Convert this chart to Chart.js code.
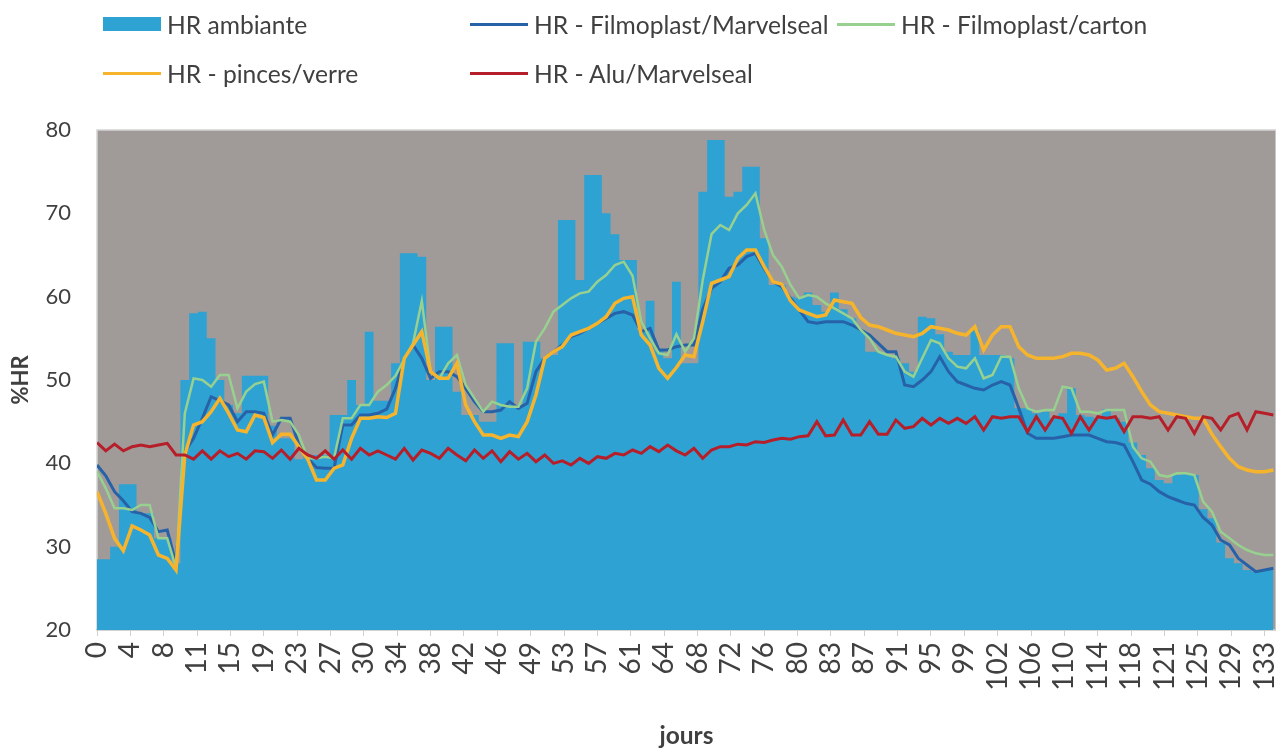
<!DOCTYPE html>
<html lang="fr">
<head>
<meta charset="utf-8">
<title>HR</title>
<script src="https://cdn.jsdelivr.net/npm/chart.js@4.4.1/dist/chart.umd.min.js"></script>
<style>
  html, body { margin: 0; padding: 0; background: #fff; }
  #wrap { position: relative; width: 1276px; height: 751px; overflow: hidden; }
  #legend {
    position: absolute; left: 103px; top: 8px;
    display: grid; grid-template-columns: 367px 367px 367px; row-gap: 17px;
    font-family: Lato, sans-serif; font-size: 24.6px; color: #404040;
  }
  .item { display: flex; align-items: center; height: 32px; white-space: nowrap; }
  .sw { width: 58px; margin-right: 6px; }
</style>
</head>
<body>
<div id="wrap">
  <canvas id="hr-chart"></canvas>
  <div id="legend"></div>
</div>
<script>
// --- data (one value per day) ---
const days = [0,1,2,3,4,5,6,7,8,9,10,11,12,13,14,15,16,17,18,19,20,21,22,23,24,25,26,27,28,29,
  30,31,32,33,34,35,36,37,38,39,40,41,42,43,44,45,46,47,48,49,50,51,52,53,54,55,56,57,58,59,
  60,61,62,63,64,65,66,67,68,69,70,71,72,73,74,75,76,77,78,79,80,81,82,83,84,85,86,87,88,89,
  90,91,92,93,94,95,96,97,98,99,100,101,102,103,104,105,106,107,108,109,110,111,112,113,114,
  115,116,117,118,119,120,121,122,123,124,125,126,127,128,129,130,131,132,133,134];

const tickLabels = [0,4,8,11,15,19,23,27,30,34,38,42,46,49,53,57,61,64,68,72,76,80,83,87,91,95,99,102,106,110,114,118,121,125,129,133];
const tickStep = 3.8; // one axis label every 3.8 days

const hrAmbiante = [
  28.5,28.5,30,37.5,37.5,34,34,31,31,28,
  50,58,58.2,55,50,47,46,50.5,50.5,50.5,
  44.5,43,43,40.5,41,41,41,45.8,45.8,50,
  47,55.8,47.5,47.5,52,65.2,65.2,64.8,50,56.4,
  56.4,48.6,45.8,45.8,45,45,54.4,54.4,47,54.6,
  54.6,52.6,53,69.2,69.2,62,74.6,74.6,70,67.5,
  64.4,64.4,56,59.5,53.5,52.6,61.8,52,52,72.6,
  78.8,78.8,72,72.6,75.6,75.6,67,61.4,61.4,60,
  59.8,60.5,59,58.2,60.5,58.5,57.4,56,53.4,53.4,
  53,52.6,52,51,57.6,57.4,55.5,53.4,53,53,
  56,53,53,53,52.6,46.6,46.6,46,46.2,45.4,
  46,49,45.8,45.6,45.4,46.5,45.4,45,42.5,41,
  39.4,38,37.6,38.6,38.8,38.6,34.5,33.4,30.5,28.6,
  28,27.2,27,27.2,27.2];

const hrFilmoMarvel = [
  39.8,38.5,36.6,35.5,34.2,34,33.5,31.8,32,28,
  41.4,43,45.4,48,47.5,47,45,46.2,46.2,46,
  43.4,45.4,45.4,42.2,40.6,39.5,39.4,39.4,44.6,44.6,
  45.8,45.8,46,46.5,49,52.6,54.2,52.6,50.2,51,
  51,50.4,49,47.4,46.2,46.2,46.4,47.4,46.6,47.2,
  51,52.6,53.4,54.2,55.2,55.6,56.2,56.8,57.4,58,
  58.2,57.8,55.8,56.2,53.6,53.6,54,54.2,54.2,58.5,
  61,61.8,63.4,63.8,64.8,65.2,63.4,61.8,61.2,59.8,
  58.4,57,56.8,57,57,57,56.6,56,55.4,54.4,
  53.4,53.4,49.4,49.2,50,51,52.8,51,49.8,49.4,
  49,48.8,49.4,49.8,49.4,46.6,43.6,43,43,43,
  43.2,43.4,43.4,43.4,43,42.6,42.5,42.2,40.2,38,
  37.5,36.6,36,35.6,35.2,35,33.5,32.6,30.8,30.2,
  28.6,27.8,27,27.2,27.4];

const hrFilmoCarton = [
  39,37,34.6,34.6,34.4,35,35,31,31,27.5,
  46,50.2,50,49.2,50.6,50.6,46.6,48.6,49.5,49.8,
  45,45.2,45,43.4,40.6,40.6,40.8,40.6,45.4,45.4,
  47,47,48.6,49.4,50.5,52.5,54.4,59.5,51,50.2,
  52,53,49.4,47.8,46.2,47.4,47,46.8,46.8,49,
  54.6,56.2,58.2,59,59.8,60.4,60.6,61.8,62.6,63.8,
  64.2,62.5,57,55,53.2,53,55.5,53.4,55,62,
  67.5,68.6,68,70,71,72.4,68,65,63.6,61.4,
  59.8,60.2,60,59.2,58.6,58,57.4,56,55,53.4,
  53,52.8,51,50.4,52.6,54.8,54.4,52.6,51.6,51.4,
  52.6,50.2,50.6,52.8,52.8,49,46.6,46.2,46.4,46.4,
  49.2,49,46.2,46.2,46,46.4,46.4,46.4,42,40.6,
  40.2,38.6,38.4,38.8,38.8,38.6,35.4,34.2,31.8,31,
  30.2,29.6,29.2,29,29];

const hrPincesVerre = [
  36.6,34,31,29.5,32.5,32,31.4,29,28.6,27.2,
  41,44.6,45,46.2,47.8,46,44,43.8,45.8,45.5,
  42.5,43.5,43.5,42,40.5,38,38,39.4,39.8,43,
  45.4,45.4,45.6,45.5,46,52.6,54.2,55.8,51,50.2,
  50.2,52,47,45,43.4,43.4,43,43.4,43.2,45,
  48.2,52.6,53.4,54,55.4,55.8,56.2,56.8,57.6,59.2,
  59.8,60,55.4,54.2,51.4,50.2,51.5,53,52.8,57,
  61.6,62,62.4,64.6,65.6,65.6,63.6,61.8,61.5,59.5,
  58.4,58,57.6,57.8,59.6,59.4,59.2,57.5,56.6,56.4,
  56,55.6,55.4,55.2,55.6,56.4,56.2,56,55.6,55.4,
  56.4,53.6,55.4,56.4,56.4,54,53,52.6,52.6,52.6,
  52.8,53.2,53.2,53,52.4,51.2,51.4,52,50.4,48.6,
  47,46.2,46,45.8,45.6,45.4,45.4,43.5,42,40.6,
  39.6,39.2,39,39,39.2];

const hrAluMarvel = [
  42.5,41.5,42.3,41.5,42,42.2,42,42.2,42.4,41,
  41,40.5,41.5,40.5,41.5,40.8,41.2,40.5,41.5,41.4,
  40.6,41.6,40.5,41.8,41,40.6,41.5,40.5,41.6,40.5,
  41.8,41,41.5,41,40.5,41.8,40.4,41.6,41.2,40.6,
  41.8,41,40.3,41.6,40.6,41.5,40.2,41.4,40.5,41.2,
  40.2,41,40,40.3,39.8,40.6,40,40.8,40.6,41.2,
  41,41.6,41.2,42,41.4,42.2,41.5,41,41.8,40.6,
  41.6,42,42,42.3,42.2,42.6,42.5,42.8,43,42.9,
  43.2,43.3,45,43.3,43.4,45.2,43.4,43.4,45,43.5,
  43.5,45.2,44.2,44.4,45.4,44.6,45.4,44.8,45.4,44.8,
  45.6,44,45.6,45.4,45.6,45.6,43.8,45.6,44,45.6,
  45.4,43.6,45.6,44,45.6,45.4,45.6,43.8,45.6,45.6,
  45.4,45.6,44,45.6,45.4,43.6,45.6,45.4,44,45.6,
  46,44,46.2,46,45.8];

// --- grey plot background + light frame ---
const plotBackground = {
  id: 'plotBackground',
  beforeDraw(chart) {
    const { ctx, chartArea: a } = chart;
    ctx.save();
    ctx.fillStyle = '#a09b98';
    ctx.fillRect(a.left, a.top, a.right - a.left, a.bottom - a.top);
    ctx.strokeStyle = '#d4d4d4';
    ctx.lineWidth = 1.5;
    ctx.strokeRect(a.left, a.top, a.right - a.left, a.bottom - a.top);
    ctx.restore();
  }
};

const textColor = '#404040';

const chart = new Chart(document.getElementById('hr-chart'), {
  type: 'line',
  data: {
    labels: days,
    datasets: [
      { label: 'HR ambiante', data: hrAmbiante, order: 5, fill: 'start', stepped: 'middle',
        backgroundColor: '#2ea2d2', borderColor: '#2ea2d2', borderWidth: 0 },
      { label: 'HR - Filmoplast/Marvelseal', data: hrFilmoMarvel, order: 4,
        borderColor: '#2762a9', borderWidth: 3 },
      { label: 'HR - Filmoplast/carton', data: hrFilmoCarton, order: 3,
        borderColor: '#97d08f', borderWidth: 2.5 },
      { label: 'HR - pinces/verre', data: hrPincesVerre, order: 2,
        borderColor: '#f6b42d', borderWidth: 3.5 },
      { label: 'HR - Alu/Marvelseal', data: hrAluMarvel, order: 1,
        borderColor: '#b61f2a', borderWidth: 3 }
    ]
  },
  options: {
    responsive: true,
    maintainAspectRatio: false,
    animation: false,
    layout: { padding: { top: 130, left: 0, right: 0, bottom: 0 } },
    elements: { point: { radius: 0 }, line: { tension: 0 } },
    plugins: { legend: { display: false }, tooltip: { enabled: false } },
    scales: {
      x: {
        type: 'linear', min: 0, max: 134.3,
        afterBuildTicks: axis => { axis.ticks = tickLabels.map((_, i) => ({ value: i * tickStep })); },
        afterFit: axis => { axis.height = 121; axis.paddingLeft = 0; axis.paddingRight = 0; },
        ticks: {
          autoSkip: false, minRotation: 90, maxRotation: 90, padding: 6,
          color: textColor, font: { family: 'Lato', size: 28 },
          callback: (v, i) => tickLabels[i]
        },
        grid: { drawOnChartArea: false, tickLength: 6, color: '#cfcfcf' },
        border: { color: '#c9c9c9', width: 1.5 },
        title: { display: true, text: 'jours', color: textColor, padding: { top: 0, bottom: 0 },
          font: { family: 'Lato', size: 24.5, weight: 'bold' } }
      },
      y: {
        min: 20, max: 80,
        afterFit: axis => { axis.width = 97; axis.paddingTop = 0; axis.paddingBottom = 0; },
        ticks: { stepSize: 10, padding: 18, color: textColor, font: { family: 'Lato', size: 22 } },
        grid: { display: false },
        border: { display: false },
        title: { display: true, text: '%HR', color: textColor, padding: { top: 8, bottom: 0 },
          font: { family: 'Lato', size: 22, weight: 'bold' } }
      }
    }
  },
  plugins: [plotBackground]
});

// --- legend laid out like the original (two rows, fixed columns) ---
const legendEl = document.getElementById('legend');
chart.data.datasets.forEach(ds => {
  const item = document.createElement('div');
  item.className = 'item';
  const sw = document.createElement('span');
  sw.className = 'sw';
  if (ds.fill) {
    sw.style.height = '14px';
    sw.style.background = ds.backgroundColor;
  } else {
    sw.style.height = '3px';
    sw.style.background = ds.borderColor;
  }
  item.appendChild(sw);
  item.appendChild(document.createTextNode(ds.label));
  legendEl.appendChild(item);
});
</script>
</body>
</html>
